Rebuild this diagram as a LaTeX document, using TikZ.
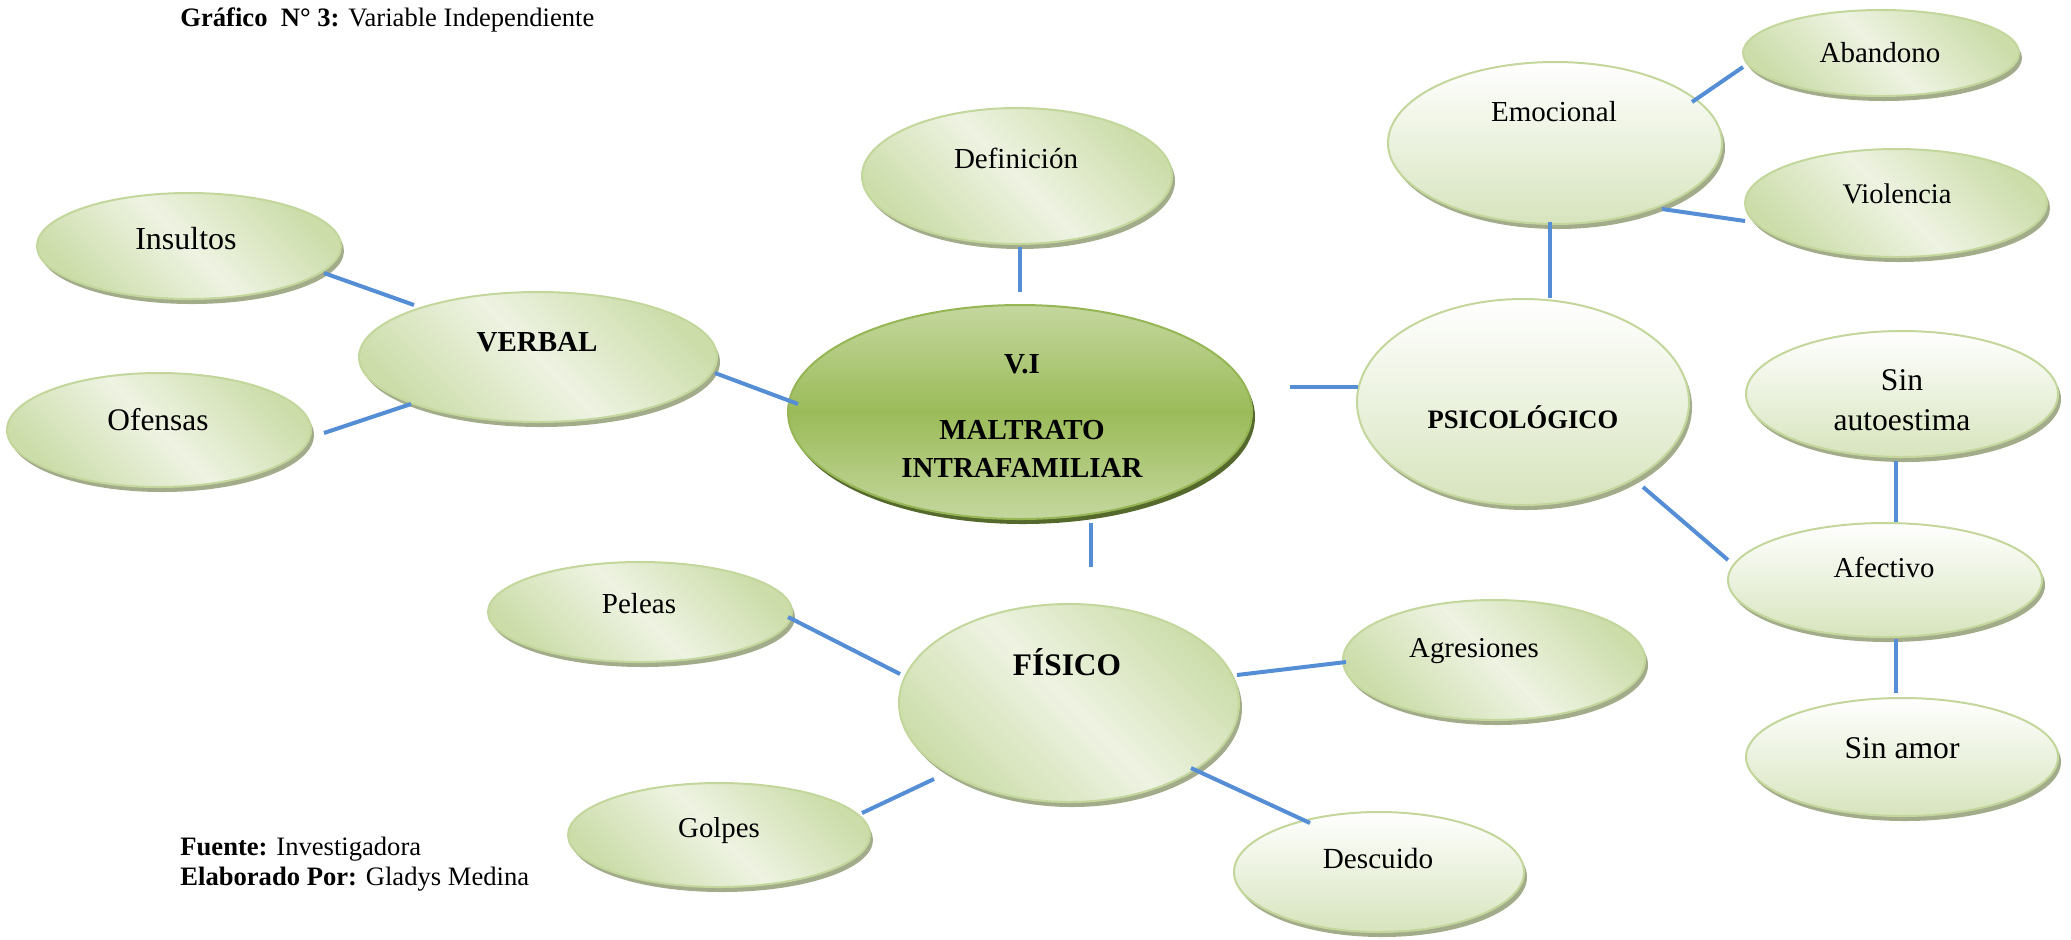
\documentclass[tikz,border=0pt]{standalone}
\usepackage{fontspec}
\setmainfont{Liberation Serif}
\usetikzlibrary{shapes.geometric,shadows,calc}
\definecolor{connc}{RGB}{85,142,213}
\definecolor{gbord}{RGB}{195,214,155}
\definecolor{gdark}{RGB}{204,221,170}
\definecolor{glight}{RGB}{238,243,226}
\definecolor{gshadow}{RGB}{163,172,138}
\definecolor{vtop}{RGB}{196,215,158}
\definecolor{vmid}{RGB}{155,187,89}
\definecolor{vbord}{RGB}{150,182,85}
\definecolor{vshadow}{RGB}{85,105,45}
\definecolor{wbot}{RGB}{215,228,189}
\tikzset{
  sz/.style 2 args={minimum width=#1pt, minimum height=#2pt},
  bub/.style={ellipse, draw=gbord, line width=1pt, inner sep=0pt,
    drop shadow={shadow xshift=1.5pt, shadow yshift=-2.5pt, fill=gshadow, opacity=1}},
  dg/.style={bub, left color=gdark, right color=gdark, middle color=glight, shading angle=135},
  vg/.style={bub, top color=white, bottom color=wbot},
  vig/.style={ellipse, draw=vbord, line width=1pt, inner sep=0pt,
    top color=vtop, bottom color=vtop, middle color=vmid,
    drop shadow={shadow xshift=1.5pt, shadow yshift=-2.5pt, fill=vshadow, opacity=1}},
  conn/.style={draw=connc, line width=2pt},
  txt/.style={anchor=base, inner sep=0pt, font=\fontsize{#1}{#1}\selectfont},
  txt/.default=14.5
}
\begin{document}
\begin{tikzpicture}[x=0.5pt, y=-0.5pt]
\useasboundingbox (0,0) rectangle (2071,939);

% ellipses
\node[dg, sz={155}{68}] (def) at (1017,176) {};
\node[dg, sz={152}{53}] (ins) at (189,246) {};
\node[dg, sz={152}{57}] (ofe) at (159,430) {};
\node[dg, sz={179}{65}] (verb) at (538,357) {};
\node[vig, sz={232}{107}] (vi) at (1020,412) {};
\node[vg, sz={166}{103}] (psi) at (1523,402) {};
\node[vg, sz={167}{81}] (emo) at (1555,143) {};
\node[dg, sz={138}{43}] (aba) at (1881,53) {};
\node[dg, sz={151}{54}] (vio) at (1896,203) {};
\node[vg, sz={156}{63}] (sau) at (1902,394) {};
\node[vg, sz={157}{57}] (afe) at (1885,580) {};
\node[vg, sz={156}{59}] (sam) at (1902,757) {};
\node[dg, sz={170}{99}] (fis) at (1069,703) {};
\node[dg, sz={152}{50}] (pel) at (640,612) {};
\node[dg, sz={151}{52}] (gol) at (719,835) {};
\node[dg, sz={151}{60}] (agr) at (1494,660) {};
\node[vg, sz={145}{60}] (des) at (1379,872) {};

% texts
\node[txt] (def-t) at (1016,168) {Definición};
\node[txt=16] (ins-t) at (186,249) {Insultos};
\node[txt=15.7] (ofe-t) at (158,430) {Ofensas};
\node[txt] (verb-t) at (537,351) {\bfseries VERBAL};
\node[txt, align=center, font=\bfseries\fontsize{14.5}{19}\selectfont] (vi-t) at (1022,477) {V.I\\[14pt]MALTRATO\\INTRAFAMILIAR};
\node[txt=13.3] (psi-t) at (1523,428) {\bfseries PSICOLÓGICO};
\node[txt] (emo-t) at (1554,121) {Emocional};
\node[txt] (aba-t) at (1880,62) {Abandono};
\node[txt=14.2] (vio-t) at (1897,203) {Violencia};
\begin{scope}
\clip (1740,330) rectangle (2065,432);
\node[txt=15.8, align=center, font=\fontsize{15.8}{20}\selectfont] (sau-t) at (1902,430) {Sin\\autoestima};
\end{scope}
\node[txt=14.4] (afe-t) at (1884,577) {Afectivo};
\node[txt=15.8] (sam-t) at (1902,758) {Sin amor};
\node[txt=15.7] (fis-t) at (1067,675) {\bfseries FÍSICO};
\node[txt] (pel-t) at (639,613) {Peleas};
\node[txt=14.4] (gol-t) at (719,837) {Golpes};
\node[txt=14.4] (agr-t) at (1474,657) {Agresiones};
\node[txt=14.6] (des-t) at (1378,868) {Descuido};

% title and footer
\node[anchor=base west, inner sep=0pt, font=\fontsize{13.3}{15}\selectfont] (title) at (180,26) {\textbf{Gráfico\ \ N° 3:} Variable Independiente};
\node[anchor=base west, inner sep=0pt, font=\fontsize{13.3}{15}\selectfont] (fuente) at (180,855) {\textbf{Fuente:} Investigadora};
\node[anchor=base west, inner sep=0pt, font=\fontsize{13.3}{15}\selectfont] (elab) at (180,885) {\textbf{Elaborado Por:} Gladys Medina};

% connectors
\draw[conn] ($(ins)+(135,27)$) -- ($(verb)+(-124,-52)$);
\draw[conn] ($(ofe)+(165,3)$) -- ($(verb)+(-127,47)$);
\draw[conn] ($(verb)+(177,16)$) -- ($(vi)+(-222,-8)$);
\draw[conn] ($(def)+(3,71)$) -- ($(vi)+(0,-120)$);
\draw[conn] ($(vi)+(270,-25)$) -- ($(psi)+(-165,-15)$);
\draw[conn] ($(emo)+(-5,79)$) -- ($(psi)+(27,-104)$);
\draw[conn] ($(emo)+(137,-41)$) -- ($(aba)+(-138,14)$);
\draw[conn] ($(emo)+(107,66)$) -- ($(vio)+(-151,18)$);
\draw[conn] ($(psi)+(120,85)$) -- ($(afe)+(-157,-20)$);
\draw[conn] ($(sau)+(-6,67)$) -- ($(afe)+(11,-58)$);
\draw[conn] ($(afe)+(11,59)$) -- ($(sam)+(-6,-64)$);
\draw[conn] ($(vi)+(71,111)$) -- ($(fis)+(22,-136)$);
\draw[conn] ($(pel)+(148,5)$) -- ($(fis)+(-169,-29)$);
\draw[conn] ($(gol)+(143,-22)$) -- ($(fis)+(-135,76)$);
\draw[conn] ($(fis)+(168,-28)$) -- ($(agr)+(-148,2)$);
\draw[conn] ($(fis)+(122,65)$) -- ($(des)+(-69,-49)$);
\end{tikzpicture}
\end{document}
